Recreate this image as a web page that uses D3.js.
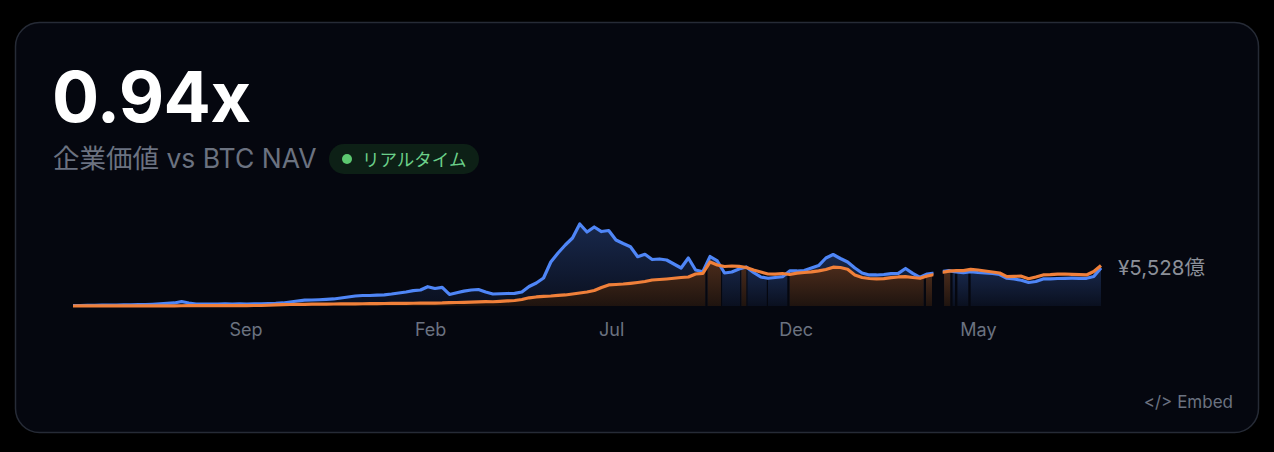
<!DOCTYPE html>
<meta charset="utf-8">
<script src="https://cdn.jsdelivr.net/npm/d3@7"></script>
<style>
  html, body { margin: 0; background: #000; }
  svg text { font-family: Inter, "Noto Sans CJK JP", sans-serif; }
</style>
<div id="chart"></div>
<script>

// data: one point every 6 days from the start date, values in 億円
var startDate = "2024-04-11";
var stepDays = 6;

// 企業価値 (EV)
var evValues = [
  70, 70, 90, 100, 120, 130, 145, 160, 170, 190,
  200, 250, 320, 380, 440, 650, 440, 290, 290, 280,
  290, 300, 290, 300, 290, 300, 330, 360, 380, 440,
  580, 730, 840, 870, 910, 960, 1020, 1160, 1310, 1450,
  1520, 1520, 1570, 1620, 1740, 1890, 2030, 2220, 2320, 2800,
  2540, 2710, 1670, 1930, 2150, 2320, 2390, 2030, 1740, 1780,
  1810, 1830, 2030, 2830, 3340, 4060, 6380, 7690, 8850, 9860,
  11890, 10730, 11460, 10800, 10950, 9570, 9060, 8600, 7150, 7500,
  6740, 6820, 6670, 6090, 5510, 6960, 5220, 4970, 7180, 6530,
  4790, 4930, 5370, 5660, 4860, 4210, 4020, 4130, 4250, 5080,
  5080, 5150, 5510, 5870, 6960, 7470, 6890, 6380, 5510, 4790,
  4500, 4500, 4570, 4700, 4740, 5440, 4740, 4160, 4640, 4790,
  5000, 5120, 4930, 4830, 4970, 4860, 4790, 4710, 4570, 4020,
  3920, 3730, 3410, 3550, 3920, 3940, 3990, 4020, 4030, 4020,
  4020, 4280, 5528
];

// BTC NAV
var navValues = [
  0, 10, 10, 10, 15, 15, 15, 20, 20, 20,
  25, 25, 30, 30, 30, 35, 40, 40, 45, 45,
  50, 55, 60, 60, 65, 70, 75, 110, 150, 190,
  220, 240, 250, 260, 270, 280, 290, 300, 310, 320,
  330, 340, 350, 360, 370, 380, 390, 400, 410, 420,
  430, 440, 480, 510, 540, 570, 600, 630, 620, 680,
  730, 800, 940, 1190, 1310, 1390, 1450, 1550, 1600, 1740,
  1890, 2030, 2250, 2680, 3050, 3120, 3190, 3290, 3410, 3550,
  3770, 3840, 3920, 4020, 4130, 4210, 4640, 4740, 6380, 5950,
  5730, 5800, 5760, 5580, 5220, 4930, 4640, 4610, 4710, 4570,
  4760, 4860, 4940, 5100, 5290, 5630, 5580, 5320, 4500, 4130,
  3990, 3920, 3970, 4120, 4210, 4250, 4130, 4020, 4350, 4570,
  4860, 5050, 5120, 5130, 5320, 5220, 5080, 4930, 4790, 4250,
  4310, 4320, 3960, 4210, 4500, 4540, 4610, 4640, 4600, 4550,
  4500, 5000, 5870
];

// stretches of data; "both" also shows the NAV fill, "ev" only the EV fill
var segStarts = ["2024-04-11", "2025-09-19", "2025-10-01", "2025-10-17", "2025-10-22", "2025-11-08",
                 "2025-11-26", "2026-03-19", "2026-04-03", "2026-04-10", "2026-04-14", "2026-04-25"];
var segEnds   = ["2025-09-17", "2025-09-30", "2025-10-16", "2025-10-21", "2025-11-07", "2025-11-24",
                 "2026-03-17", "2026-03-24", "2026-04-08", "2026-04-12", "2026-04-23", "2026-08-11"];
var segFills  = ["both", "both", "ev", "both", "ev", "ev",
                 "both", "both", "both", "ev", "ev", "ev"];

var tickDates = ["2024-09-01", "2025-02-01", "2025-07-01", "2025-12-01", "2026-05-01"];

var premiumText = "0.94x";
var subtitleText = "企業価値 vs BTC NAV";
var badgeText = "リアルタイム";
var lastLabel = "¥5,528億";

var W = 1274, H = 452;
var parse = d3.utcParse("%Y-%m-%d");
var t0 = parse(startDate);

var data = evValues.map(function(v, i) {
  return { date: d3.utcDay.offset(t0, i * stepDays), ev: v, nav: navValues[i] };
});

var svg = d3.select("#chart").append("svg")
  .attr("width", W)
  .attr("height", H);

// card
svg.append("rect")
  .attr("x", 15.5).attr("y", 22.5)
  .attr("width", 1243).attr("height", 410)
  .attr("rx", 24)
  .attr("fill", "#05070f")
  .attr("stroke", "#262b36")
  .attr("stroke-width", 1.5);

// header
svg.append("text")
  .attr("x", 52).attr("y", 122)
  .attr("font-size", 70).attr("font-weight", 700)
  .attr("letter-spacing", -0.5)
  .attr("fill", "#ffffff")
  .text(premiumText);

svg.append("text")
  .attr("x", 53).attr("y", 168)
  .attr("font-size", 26.5)
  .attr("fill", "#6b7280")
  .text(subtitleText);

svg.append("rect")
  .attr("x", 329).attr("y", 144)
  .attr("width", 150).attr("height", 30)
  .attr("rx", 15)
  .attr("fill", "#0d2016");
svg.append("circle")
  .attr("cx", 347).attr("cy", 159).attr("r", 5)
  .attr("fill", "#5cc870");
svg.append("text")
  .attr("x", 362).attr("y", 165.5)
  .attr("font-size", 17.5)
  .attr("fill", "#6bd08a")
  .text(badgeText);

// scales
var x = d3.scaleUtc()
  .domain([t0, parse(segEnds[segEnds.length - 1])])
  .range([73, 1101]);

var y = d3.scaleLinear()
  .domain([0, 12400])
  .range([306, 220.5]);

var defs = svg.append("defs");

var evArea = d3.area()
  .x(function(d) { return x(d.date); })
  .y0(y(0))
  .y1(function(d) { return y(d.ev); });
var navArea = d3.area()
  .x(function(d) { return x(d.date); })
  .y0(y(0))
  .y1(function(d) { return y(d.nav); });

var evLine = d3.line()
  .x(function(d) { return x(d.date); })
  .y(function(d) { return y(d.ev); });
var navLine = d3.line()
  .x(function(d) { return x(d.date); })
  .y(function(d) { return y(d.nav); });

function addGradient(id, top, c1, o1, c2, o2) {
  var g = defs.append("linearGradient")
    .attr("id", id)
    .attr("gradientUnits", "userSpaceOnUse")
    .attr("x1", 0).attr("x2", 0)
    .attr("y1", top).attr("y2", y(0));
  g.append("stop").attr("offset", "0%").attr("stop-color", c1).attr("stop-opacity", o1);
  g.append("stop").attr("offset", "100%").attr("stop-color", c2).attr("stop-opacity", o2);
}

var fills = svg.append("g");

segStarts.forEach(function(s, k) {
  var a = parse(s), b = parse(segEnds[k]);
  defs.append("clipPath").attr("id", "seg" + k)
    .append("rect")
      .attr("x", x(a)).attr("y", 0)
      .attr("width", x(b) - x(a)).attr("height", H);

  // top of the segment for its gradient
  var lo = d3.utcDay.offset(a, -stepDays), hi = d3.utcDay.offset(b, stepDays);
  var inSeg = data.filter(function(d) { return d.date >= lo && d.date <= hi; });
  var evTop = y(d3.max(inSeg, function(d) { return d.ev; }));
  var navTop = y(d3.max(inSeg, function(d) { return d.nav; }));

  addGradient("gEv" + k, evTop, "#4f86f7", 0.26, "#4f86f7", 0.07);
  fills.append("path")
    .datum(data)
    .attr("clip-path", "url(#seg" + k + ")")
    .attr("fill", "url(#gEv" + k + ")")
    .attr("d", evArea);

  if (segFills[k] === "both") {
    addGradient("gNav" + k, navTop, "#4a2b1b", 1, "#1f140f", 1);
    fills.append("path")
      .datum(data)
      .attr("clip-path", "url(#seg" + k + ")")
      .attr("fill", "url(#gNav" + k + ")")
      .attr("d", navArea);
  }
});

// lines clipped to the stretches (one-day gaps bridged)
var lineClip = defs.append("clipPath").attr("id", "lineClip");
segStarts.forEach(function(s, k) {
  var a = x(parse(s)) - 1.4, b = x(parse(segEnds[k])) + 1.4;
  lineClip.append("rect")
    .attr("x", a).attr("y", 0)
    .attr("width", b - a).attr("height", H);
});

var lines = svg.append("g").attr("clip-path", "url(#lineClip)");
lines.append("path")
  .datum(data)
  .attr("fill", "none")
  .attr("stroke", "#4f86f7")
  .attr("stroke-width", 3.2)
  .attr("stroke-linejoin", "round")
  .attr("d", evLine);
lines.append("path")
  .datum(data)
  .attr("fill", "none")
  .attr("stroke", "#f0803a")
  .attr("stroke-width", 3.2)
  .attr("stroke-linejoin", "round")
  .attr("d", navLine);

// last value label
var last = data[data.length - 1];
svg.append("text")
  .attr("x", x(last.date) + 17)
  .attr("y", y(last.ev) + 7)
  .attr("font-size", 20.5)
  .attr("fill", "#8b8f98")
  .text(lastLabel);

// x axis
var xAxis = svg.append("g")
  .attr("transform", "translate(0,323)")
  .call(d3.axisBottom(x)
    .tickValues(tickDates.map(parse))
    .tickFormat(d3.utcFormat("%b"))
    .tickSize(0)
    .tickPadding(0));
xAxis.select(".domain").remove();
xAxis.selectAll("text")
  .attr("font-size", 18)
  .attr("font-family", null)
  .attr("fill", "#6b7280");

svg.append("text")
  .attr("x", 1233).attr("y", 408)
  .attr("text-anchor", "end")
  .attr("font-size", 17)
  .attr("fill", "#6b7280")
  .text("</> Embed");

</script>
